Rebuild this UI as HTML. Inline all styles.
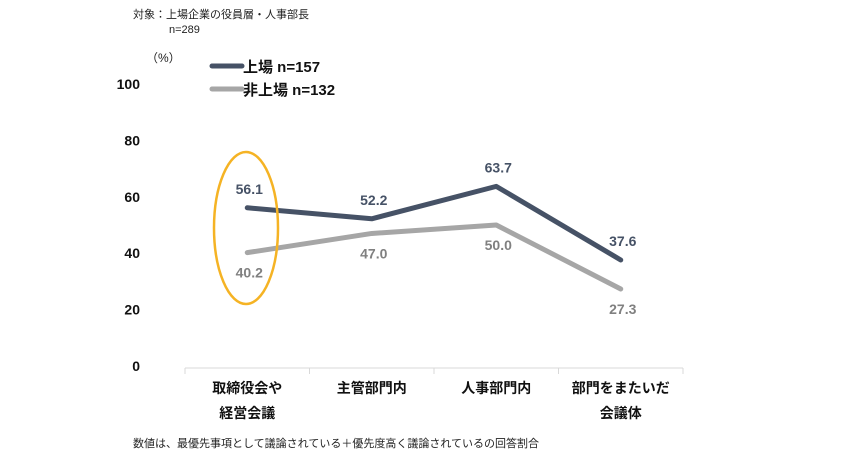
<!DOCTYPE html>
<html><head><meta charset="utf-8"><style>
body{margin:0;background:#fff;font-family:"Liberation Sans","Noto Sans CJK JP",sans-serif;}
svg text{font-family:"Liberation Sans","Noto Sans CJK JP",sans-serif;}
</style></head><body>
<svg width="865" height="470" xmlns="http://www.w3.org/2000/svg">
<text x="133" y="18" font-size="11" fill="#222">対象：上場企業の役員層・人事部長</text>
<text x="169" y="33" font-size="11" fill="#222">n=289</text>
<text x="146" y="62" font-size="12" fill="#222">（%）</text>
<g>
<line x1="212" y1="66" x2="242" y2="66" stroke="#465266" stroke-width="5" stroke-linecap="round"/>
<text x="243" y="72" font-size="15" font-weight="bold" fill="#111">上場 n=157</text>
<line x1="212" y1="89" x2="242" y2="89" stroke="#a6a6a6" stroke-width="5" stroke-linecap="round"/>
<text x="243" y="95" font-size="15" font-weight="bold" fill="#111">非上場 n=132</text>
</g>
<g id="axes"></g>
<g id="marks"></g>
<ellipse cx="246" cy="228" rx="32" ry="76" fill="none" stroke="#f5b324" stroke-width="2.5"/>
<text x="133" y="447" font-size="11" fill="#222">数値は、最優先事項として議論されている＋優先度高く議論されているの回答割合</text>
</svg>
<script>
const categories=[["取締役会や","経営会議"],["主管部門内"],["人事部門内"],["部門をまたいだ","会議体"]];
const listed=[56.1,52.2,63.7,37.6];
const unlisted=[40.2,47.0,50.0,27.3];
const yTicks=[0,20,40,60,80,100];
const NS="http://www.w3.org/2000/svg";
const x0=185,x1=683,yBase=366,yTop=84;
const band=(x1-x0)/categories.length;
function xs(i){return x0+band*(i+0.5);}
function ys(v){return yBase-(yBase-yTop)*v/100;}
function mk(tag,attrs,parent){const e=document.createElementNS(NS,tag);for(const k in attrs)e.setAttribute(k,attrs[k]);parent.appendChild(e);return e;}
const axes=document.getElementById('axes'),marks=document.getElementById('marks');
yTicks.forEach(t=>{const e=mk('text',{x:140,y:ys(t)+5,'font-size':14,'font-weight':'bold','text-anchor':'end',fill:'#111'},axes);e.textContent=t;

});
const ax=mk('line',{x1:x0,y1:yBase+2,x2:x1,y2:yBase+2,stroke:'#d9d9d9','stroke-width':1},axes);


for(let i=0;i<=categories.length;i++){const tk=mk('line',{x1:x0+band*i,y1:yBase+2,x2:x0+band*i,y2:yBase+8,stroke:'#d9d9d9'},axes);

}
categories.forEach((c,i)=>{c.forEach((s,j)=>{const e=mk('text',{x:xs(i),y:393+j*25,'font-size':14,'font-weight':'bold','text-anchor':'middle',fill:'#111'},axes);e.textContent=s;

});});
function series(vals,color,name,above){
const p=mk('polyline',{points:vals.map((v,i)=>xs(i)+','+ys(v)).join(' '),fill:'none',stroke:color,'stroke-width':5,'stroke-linejoin':'round','stroke-linecap':'round'},marks);


vals.forEach((v,i)=>{const t=mk('text',{x:xs(i)+2,y:above?ys(v)-14:ys(v)+25,'font-size':14,'font-weight':'bold','text-anchor':'middle',fill:above?'#465266':'#808080'},marks);t.textContent=v.toFixed(1);

});}
series(unlisted,'#a6a6a6','unlisted',false);
series(listed,'#465266','listed',true);
</script>
</body></html>
